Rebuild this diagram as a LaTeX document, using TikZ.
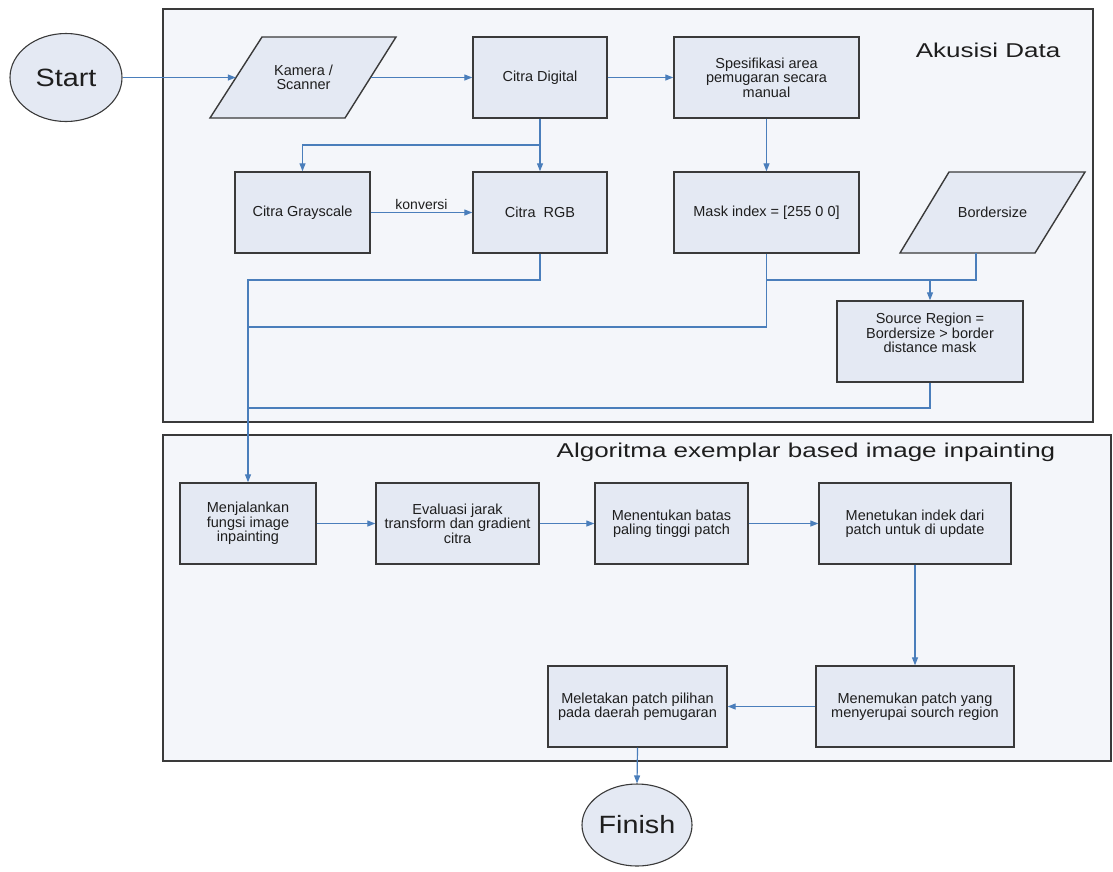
\documentclass[tikz,border=0pt]{standalone}
\usepackage{fontspec}
\setmainfont{Liberation Sans}
\usepackage{graphicx}
\usetikzlibrary{shapes.geometric,arrows.meta}
\definecolor{panelfill}{HTML}{F4F6FA}
\definecolor{boxfill}{HTML}{E4E9F3}
\definecolor{edgecol}{HTML}{3A3A3A}
\definecolor{flowcol}{HTML}{4A7EBB}
\definecolor{txtcol}{HTML}{1E1E1E}
\newcommand{\widetext}[2]{\scalebox{#1}[1]{#2}}
\begin{document}
\begin{tikzpicture}[x=1pt,y=-1pt,
  panel/.style={draw=edgecol,line width=1.3pt,fill=panelfill},
  box/.style={draw=edgecol,line width=1.4pt,fill=boxfill,rectangle,minimum height=81pt,inner sep=2pt,align=center,font=\fontsize{14.5}{14.5}\selectfont,text=txtcol},
  pshape/.style={draw=edgecol,line width=1.4pt,fill=boxfill,line join=miter},
  ptext/.style={rectangle,minimum height=81pt,inner sep=2pt,align=center,font=\fontsize{14.5}{14.5}\selectfont,text=txtcol},
  term/.style={ellipse,draw=edgecol,line width=1.1pt,fill=boxfill,inner sep=0pt,font=\fontsize{25}{25}\selectfont,text=txtcol},
  title/.style={font=\fontsize{20}{20}\selectfont,text=txtcol,inner sep=0pt},
  plain/.style={draw=flowcol,line width=1.2pt},
  flowline/.style={plain,-{Triangle[length=8pt,width=6pt]}}
]
\useasboundingbox (0,0) rectangle (1113,871);
% panels
\draw[panel] (163,9) rectangle (1093,422);
\draw[panel] (163,435) rectangle (1111,761);
\node[title] (t1) at (988,50) {\widetext{1.3}{Akusisi Data}};
\node[title] (t2) at (806,452) {\widetext{1.3}{Algoritma exemplar based image inpainting}};
% terminals
\node[term,minimum width=112pt,minimum height=88pt] (start) at (66,77.5) {\widetext{1.15}{Start}};
\node[term,minimum width=110pt,minimum height=82pt] (fin) at (637,825) {\widetext{1.15}{Finish}};
% top panel
\draw[pshape] (210,118) -- (262,37) -- (396,37) -- (345,118) -- cycle;
\node[ptext,minimum width=135pt] (kam) at (303.5,77.5) {Kamera /\\Scanner};
\node[box,minimum width=134pt] (cd) at (540,77.5) {Citra Digital};
\node[box,minimum width=185pt] (sp) at (766.5,77.5) {Spesifikasi area\\pemugaran secara\\manual};
\node[box,minimum width=135pt] (gs) at (302.5,212.5) {Citra Grayscale};
\node[box,minimum width=134pt] (rgb) at (540,212.5) {Citra~~RGB};
\node[box,minimum width=185pt] (mask) at (766.5,212.5) {Mask index = [255 0 0]};
\draw[pshape] (900,253) -- (949,172) -- (1085,172) -- (1035,253) -- cycle;
\node[ptext,minimum width=136pt] (bs) at (992.5,212.5) {Bordersize};
\node[box,minimum width=186pt] (src) at (930,341.5) {};
\node[ptext,minimum height=10pt] (srct) at (930,333) {Source Region =\\Bordersize > border\\distance mask};
% bottom panel
\node[box,minimum width=136pt] (mj) at (248,523.5) {Menjalankan\\fungsi image\\inpainting};
\node[box,minimum width=163pt] (ev) at (457.5,523.5) {Evaluasi jarak\\transform dan gradient\\citra};
\node[box,minimum width=153pt] (mb) at (671.5,523.5) {Menentukan batas\\paling tinggi patch};
\node[box,minimum width=192pt] (mi) at (915,523.5) {Menetukan indek dari\\patch untuk di update};
\node[box,minimum width=198pt] (mp) at (915,706.5) {Menemukan patch yang\\menyerupai sourch region};
\node[box,minimum width=179pt] (ml) at (637.5,706.5) {Meletakan patch pilihan\\pada daerah pemugaran};
% connectors
\draw[flowline] (start.east) -- (kam.west);
\draw[flowline] (kam.east) -- (cd.west);
\draw[flowline] (cd.east) -- (sp.west);
\draw[flowline] (cd.south) -- (rgb.north);
\coordinate (j1) at (540,145);
\draw[flowline] (j1) -| (gs.north);
\draw[flowline] (gs.east) -- node[above=2pt,font=\fontsize{14}{14}\selectfont,text=txtcol,inner sep=0pt] {konversi} (rgb.west);
\draw[flowline] (sp.south) -- (mask.north);
\coordinate (j2) at (540,280);
\draw[flowline] (rgb.south) -- (j2) -| (mj.north);
\coordinate (j3) at (248,327);
\draw[plain] (mask.south) |- (j3);
\coordinate (j4) at (766.5,280);
\draw[flowline] (j4) -| (src.north);
\coordinate (bsb) at (976,253);
\draw[plain] (bsb) |- (src.north |- j4);
\coordinate (j5) at (248,408);
\draw[plain] (src.south) |- (j5);
\draw[flowline] (mj.east) -- (ev.west);
\draw[flowline] (ev.east) -- (mb.west);
\draw[flowline] (mb.east) -- (mi.west);
\draw[flowline] (mi.south) -- (mp.north);
\draw[flowline] (mp.west) -- (ml.east);
\draw[flowline] (ml.south) -- (fin.north);
\end{tikzpicture}
\end{document}
